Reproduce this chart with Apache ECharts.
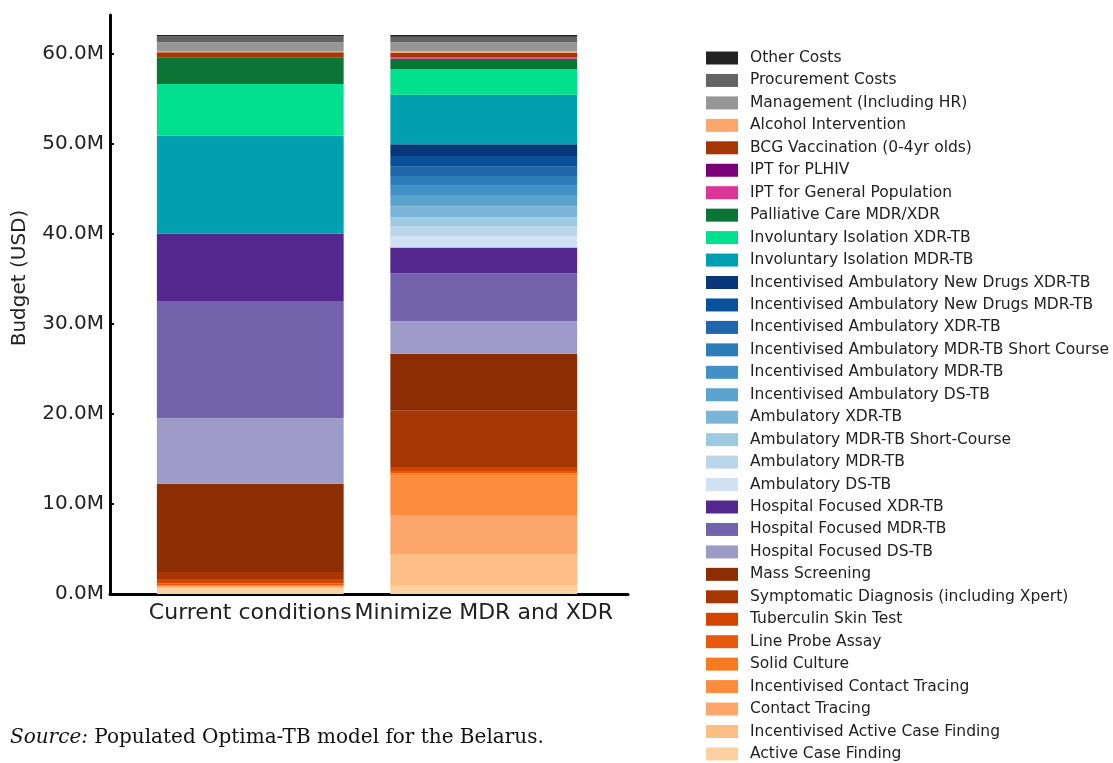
<!DOCTYPE html>
<html>
<head>
<meta charset="utf-8">
<script src="https://cdn.jsdelivr.net/npm/echarts@6/dist/echarts.min.js"></script>
<style>
html,body{margin:0;padding:0;background:#fff;}
#chart{width:1113px;height:763px;}
</style>
</head>
<body>
<div id="chart"></div>
<script>
// Categories (scenarios)
const categories = ["Current conditions", "Minimize MDR and XDR"];

// Cost items, listed bottom of stack first (values in millions USD)
const itemNames = [
  "Active Case Finding",
  "Incentivised Active Case Finding",
  "Contact Tracing",
  "Incentivised Contact Tracing",
  "Solid Culture",
  "Line Probe Assay",
  "Tuberculin Skin Test",
  "Symptomatic Diagnosis (including Xpert)",
  "Mass Screening",
  "Hospital Focused DS-TB",
  "Hospital Focused MDR-TB",
  "Hospital Focused XDR-TB",
  "Ambulatory DS-TB",
  "Ambulatory MDR-TB",
  "Ambulatory MDR-TB Short-Course",
  "Ambulatory XDR-TB",
  "Incentivised Ambulatory DS-TB",
  "Incentivised Ambulatory MDR-TB",
  "Incentivised Ambulatory MDR-TB Short Course",
  "Incentivised Ambulatory XDR-TB",
  "Incentivised Ambulatory New Drugs MDR-TB",
  "Incentivised Ambulatory New Drugs XDR-TB",
  "Involuntary Isolation MDR-TB",
  "Involuntary Isolation XDR-TB",
  "Palliative Care MDR/XDR",
  "IPT for General Population",
  "IPT for PLHIV",
  "BCG Vaccination (0-4yr olds)",
  "Alcohol Intervention",
  "Management (Including HR)",
  "Procurement Costs",
  "Other Costs"
];

const currentConditions = [
  0.74, 0, 0, 0.08, 0.15, 0.22, 0.48, 0.78, 9.78,
  7.30, 13.00, 7.48,
  0, 0, 0, 0,
  0, 0, 0, 0, 0, 0,
  10.92, 5.71, 2.92, 0, 0,
  0.59, 0.16, 0.96, 0.63, 0.19
];

const minimizeMdrXdr = [
  0.92, 3.52, 4.33, 4.37, 0.27, 0.26, 0.44, 6.30, 6.26,
  3.63, 5.33, 2.84,
  1.22, 1.11, 1.04, 1.18,
  1.30, 1.03, 1.08, 1.03, 1.19, 1.30,
  5.48, 2.86, 1.14, 0.14, 0.02,
  0.52, 0.19, 0.96, 0.63, 0.19
];

const itemColors = [
  "#fdd0a2", "#fdbe85", "#fda66b", "#fd8d3c", "#f57a22", "#e6590f", "#d14501", "#a63603", "#8c2d04",
  "#9e9ac8", "#7363ac", "#54278f",
  "#cfe1f2", "#bad6eb", "#9ecae1", "#7ab5d9",
  "#5ba3cf", "#4290c5", "#2c7cba", "#1f66ad", "#0a519c", "#08387a",
  "#00a0b0", "#00e08d", "#0b7535", "#dd3497", "#7a0177",
  "#a63603", "#fda66b", "#969696", "#636363", "#222222"
];

const yTicks = [0, 10, 20, 30, 40, 50, 60];
const yMax = 64.3;

const series = itemNames.map((name, i) => ({
  name: name,
  type: "bar",
  stack: "total",
  xAxisIndex: 1,
  yAxisIndex: 1,
  barWidth: "80%",
  itemStyle: { color: itemColors[i] },
  emphasis: { disabled: true },
  data: [currentConditions[i], minimizeMdrXdr[i]]
}));

const chart = echarts.init(document.getElementById("chart"), null, { renderer: "canvas" });
chart.setOption({
  animation: false,
  backgroundColor: "#fff",
  textStyle: { fontFamily: "DejaVu Sans" },
  title: {
    left: 10,
    top: 728,
    padding: 0,
    text: "{i|Source:} Populated Optima-TB model for the Belarus.",
    textStyle: {
      fontFamily: "DejaVu Serif",
      fontSize: 20,
      fontWeight: "normal",
      color: "#111",
      rich: {
        i: { fontFamily: "DejaVu Serif", fontStyle: "italic", fontSize: 20, color: "#111" }
      }
    }
  },
  legend: {
    orient: "vertical",
    left: 706,
    top: 50,
    padding: 0,
    icon: "rect",
    itemWidth: 32,
    itemHeight: 13,
    itemGap: 6.45,
    data: itemNames.slice().reverse(),
    textStyle: {
      fontFamily: "DejaVu Sans",
      fontSize: 15.5,
      lineHeight: 16,
      color: "#222",
      padding: [0, 0, 0, 7]
    },
    selectedMode: false
  },
  grid: [
    { left: 110, right: 485, top: 15, bottom: 169, containLabel: false },
    { left: 133.5, right: 512.5, top: 15, bottom: 169, containLabel: false }
  ],
  xAxis: [
    {
      gridIndex: 0,
      type: "value",
      min: 0,
      max: 1,
      splitLine: { show: false },
      axisLine: { show: true, onZero: false, lineStyle: { color: "#000", width: 3 } },
      axisTick: { show: false },
      axisLabel: { show: false }
    },
    {
      gridIndex: 1,
      type: "category",
      data: categories,
      splitLine: { show: false },
      axisLine: { show: false },
      axisTick: { show: true, inside: true, alignWithLabel: true, length: 4, lineStyle: { color: "#000", width: 2 } },
      axisLabel: {
        interval: 0,
        fontFamily: "DejaVu Sans",
        fontSize: 22,
        color: "#222",
        margin: 8
      }
    }
  ],
  yAxis: [
    {
      gridIndex: 0,
      type: "value",
      min: 0,
      max: yMax,
      name: "Budget (USD)",
      nameLocation: "middle",
      nameGap: 80,
      nameTextStyle: { fontFamily: "DejaVu Sans", fontSize: 20, color: "#222", padding: [0, 0, 0, 53] },
      splitLine: { show: false },
      axisLine: { show: true, onZero: false, lineStyle: { color: "#000", width: 3 } },
      axisTick: { show: true, inside: true, length: 4, lineStyle: { color: "#000", width: 2 }, customValues: yTicks },
      axisLabel: {
        customValues: yTicks,
        formatter: v => v.toFixed(1) + "M",
        fontFamily: "DejaVu Sans",
        fontSize: 20,
        color: "#222",
        margin: 6
      }
    },
    {
      gridIndex: 1,
      type: "value",
      min: 0,
      max: yMax,
      show: false,
      splitLine: { show: false }
    }
  ],
  series: series
});
</script>
</body>
</html>
